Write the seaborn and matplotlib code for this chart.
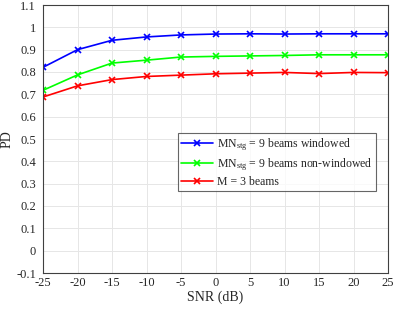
import pandas as pd
import matplotlib.pyplot as plt
import seaborn as sns

snr = [-25, -20, -15, -10, -5, 0, 5, 10, 15, 20, 25]
pd_win = [0.821, 0.900, 0.942, 0.957, 0.966, 0.970, 0.971, 0.970, 0.971, 0.971, 0.971]
pd_nonwin = [0.718, 0.787, 0.840, 0.853, 0.867, 0.870, 0.872, 0.874, 0.877, 0.877, 0.877]
pd_m3 = [0.688, 0.738, 0.766, 0.780, 0.786, 0.792, 0.795, 0.798, 0.793, 0.798, 0.797]
labels = [r'MN$_{\mathrm{stg}}$ = 9 beams windowed',
          r'MN$_{\mathrm{stg}}$ = 9 beams non-windowed',
          'M = 3 beams']

df = pd.DataFrame({
    'SNR': snr * 3,
    'PD': pd_win + pd_nonwin + pd_m3,
    'series': [labels[0]] * 11 + [labels[1]] * 11 + [labels[2]] * 11,
})

sns.set_style('whitegrid')
plt.rcParams['font.family'] = ['Liberation Serif', 'DejaVu Serif']
plt.rcParams['mathtext.fontset'] = 'custom'
plt.rcParams['mathtext.rm'] = 'Liberation Serif'
plt.rcParams['mathtext.it'] = 'Liberation Serif:italic'

fig = plt.figure(figsize=(3.97, 3.17), dpi=100)
ax = fig.add_axes([43 / 397, 44 / 317, 345 / 397, 268 / 317])
sns.lineplot(data=df, x='SNR', y='PD', hue='series', hue_order=labels,
             palette=['#0000ff', '#00ff00', '#ff0000'], marker='x',
             markersize=5, linewidth=1.2, legend=False, ax=ax)
for ln in ax.lines:
    ln.set_markeredgecolor(ln.get_color())
    ln.set_markeredgewidth(1.2)

ax.set_xlim(-25, 25)
ax.set_ylim(-0.1, 1.1)
ax.set_xticks(snr)
ax.set_xticklabels([str(s) for s in snr])
yt = [round(-0.1 + 0.1 * i, 1) for i in range(13)]
ax.set_yticks(yt)
ax.set_yticklabels(['0' if v == 0 else ('1' if v == 1 else f'{v:g}') for v in yt])
ax.tick_params(labelsize=9, direction='in', length=3, color='#404040')
ax.tick_params(axis='y', pad=5)
ax.tick_params(axis='x', pad=3)
ax.set_xlabel('SNR (dB)', fontsize=10, labelpad=1)
ax.set_ylabel('PD', fontsize=10, labelpad=2)
ax.grid(True, color='#e6e6e6', linewidth=0.7)
for s in ax.spines.values():
    s.set_color('#404040')
    s.set_linewidth(0.8)

leg = ax.legend(ax.lines[:3], labels, loc='upper left',
                bbox_to_anchor=((172 - 43) / 345, (273 - 127) / 268),
                fontsize=8.5, frameon=True, fancybox=False, handlelength=2.7,
                borderpad=0.3, labelspacing=0.25, handletextpad=0.3)
leg.get_frame().set_edgecolor('#404040')
leg.get_frame().set_linewidth(0.8)

fig.savefig('out.png', dpi=100)
